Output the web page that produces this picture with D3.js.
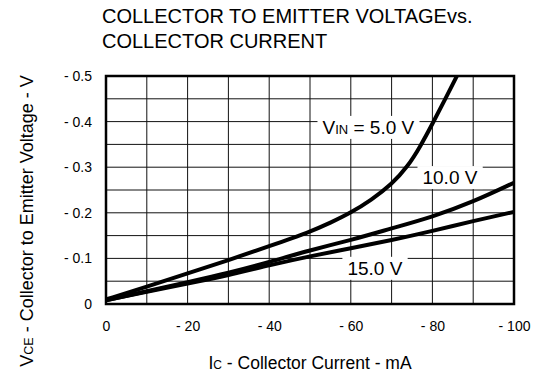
<!DOCTYPE html>
<html>
<head>
<meta charset="utf-8">
<script src="https://cdn.jsdelivr.net/npm/d3@7"></script>
<style>
  body { margin: 0; background: #fff; }
  text { font-family: Arial, "Liberation Sans", sans-serif; fill: #000; }
</style>
</head>
<body>
<div id="chart-area"></div>
<script>
// data (magnitudes; axes are labelled with "-" signs)
var xTicks = [0, 20, 40, 60, 80, 100];
var yTicks = [0, 0.1, 0.2, 0.3, 0.4, 0.5];

var vin5Current = [0, 10, 20, 30, 40, 50, 55, 60, 65, 70, 74, 77, 80, 83, 86, 88];
var vin5Voltage = [0.01, 0.038, 0.067, 0.096, 0.127, 0.158, 0.178, 0.200, 0.228, 0.262, 0.302, 0.345, 0.395, 0.447, 0.50, 0.535];

var current = [0, 10, 20, 30, 40, 50, 60, 70, 80, 90, 100];
var vin10Voltage = [0.008, 0.028, 0.048, 0.068, 0.092, 0.118, 0.140, 0.166, 0.191, 0.224, 0.266];
var vin15Voltage = [0.008, 0.027, 0.045, 0.063, 0.085, 0.105, 0.122, 0.140, 0.160, 0.182, 0.202];

var margin = {left: 106, right: 25, top: 76, bottom: 72};
var width = 539 - margin.left - margin.right;
var height = 376 - margin.top - margin.bottom;

var svg = d3.select("#chart-area")
	.append("svg")
		.attr("width", 539)
		.attr("height", 376);

var canvas = svg.append("g")
	.attr("transform", "translate(" + margin.left + ", " + margin.top + ")");

//scales
var x = d3.scaleLinear()
	.domain([0, 100])
	.range([0, width]);

var y = d3.scaleLinear()
	.domain([0, 0.5])
	.range([height, 0]);

//title
var title = svg.append("text")
	.attr("x", 102)
	.attr("y", 23)
	.attr("font-size", "20px");
title.append("tspan").attr("x", 102).text("COLLECTOR TO EMITTER VOLTAGEvs.");
title.append("tspan").attr("x", 102).attr("dy", 25).text("COLLECTOR CURRENT");

//grid
canvas.append("g")
	.attr("class", "grid")
	.selectAll("line.v")
	.data(d3.range(10, 100, 10))
	.enter().append("line")
		.attr("x1", function(d){ return x(d) })
		.attr("x2", function(d){ return x(d) })
		.attr("y1", 0)
		.attr("y2", height)
		.attr("stroke", "#111")
		.attr("stroke-width", 1);

canvas.append("g")
	.attr("class", "grid")
	.selectAll("line.h")
	.data(d3.range(0.05, 0.5, 0.05))
	.enter().append("line")
		.attr("x1", 0)
		.attr("x2", width)
		.attr("y1", function(d){ return y(d) })
		.attr("y2", function(d){ return y(d) })
		.attr("stroke", "#111")
		.attr("stroke-width", 1);

//axes (tick labels only)
var xAxisCall = d3.axisBottom(x)
	.tickValues(xTicks)
	.tickSize(0)
	.tickPadding(17)
	.tickFormat(function(d){ return d == 0 ? "0" : "- " + d });

var xAxis = canvas.append("g")
	.attr("class", "x axis")
	.attr("transform", "translate(0, " + height + ")")
	.call(xAxisCall);

var yAxisCall = d3.axisLeft(y)
	.tickValues(yTicks)
	.tickSize(0)
	.tickPadding(14)
	.tickFormat(function(d){ return d == 0 ? "0" : "- " + d3.format(".1f")(d) });

var yAxis = canvas.append("g")
	.attr("class", "y axis")
	.call(yAxisCall);

[xAxis, yAxis].forEach(function(a){
	a.select(".domain").remove();
	a.selectAll("text")
		.attr("font-family", "Arial, 'Liberation Sans', sans-serif")
		.attr("fill", "#000");
});
xAxis.selectAll("text").attr("font-size", "14px");
yAxis.selectAll("text").attr("font-size", "14px");

//curves
canvas.append("clipPath")
	.attr("id", "plot-clip")
	.append("rect")
		.attr("width", width)
		.attr("height", height);

var line = d3.line()
	.x(function(d){ return x(d[0]) })
	.y(function(d){ return y(d[1]) })
	.curve(d3.curveBasis);

var series = [
	d3.zip(vin5Current, vin5Voltage),
	d3.zip(current, vin10Voltage),
	d3.zip(current, vin15Voltage)
];

canvas.append("g")
	.attr("clip-path", "url(#plot-clip)")
	.selectAll("path")
	.data(series)
	.enter().append("path")
		.attr("d", line)
		.attr("fill", "none")
		.attr("stroke", "#000")
		.attr("stroke-width", 4);

//curve labels with white boxes
var labels = [
	{cx: 64.3, cy: 0.388, main: "V", sub: "IN", rest: " = 5.0 V"},
	{cx: 84.3, cy: 0.278, main: "10.0 V", sub: "", rest: ""},
	{cx: 65.9, cy: 0.079, main: "15.0 V", sub: "", rest: ""}
];

labels.forEach(function(l){
	var g = canvas.append("g");
	var bg = g.append("rect").attr("fill", "#fff");
	var t = g.append("text")
		.attr("x", x(l.cx))
		.attr("y", y(l.cy))
		.attr("dy", "0.36em")
		.attr("text-anchor", "middle")
		.attr("font-size", "19px");
	t.append("tspan").text(l.main);
	if (l.sub) t.append("tspan").attr("font-size", "13px").text(l.sub);
	if (l.rest) t.append("tspan").text(l.rest);
	var bb = t.node().getBBox();
	bg.attr("x", bb.x - 5)
		.attr("y", bb.y - 1)
		.attr("width", bb.width + 10)
		.attr("height", bb.height + 2);
});

//frame
canvas.append("rect")
	.attr("width", width)
	.attr("height", height)
	.attr("fill", "none")
	.attr("stroke", "#000")
	.attr("stroke-width", 2.5);

//axis titles
var xLabel = svg.append("text")
	.attr("x", margin.left + width / 2)
	.attr("y", 369)
	.attr("font-size", "17.5px")
	.attr("text-anchor", "middle");
xLabel.append("tspan").text("I");
xLabel.append("tspan").attr("font-size", "12px").text("C");
xLabel.append("tspan").text(" - Collector Current - mA");

var yLabel = svg.append("text")
	.attr("transform", "translate(33, 221) rotate(-90)")
	.attr("font-size", "18px")
	.attr("text-anchor", "middle");
yLabel.append("tspan").text("V");
yLabel.append("tspan").attr("font-size", "12.5px").text("CE");
yLabel.append("tspan").text(" - Collector to Emitter Voltage - V");
</script>
</body>
</html>
